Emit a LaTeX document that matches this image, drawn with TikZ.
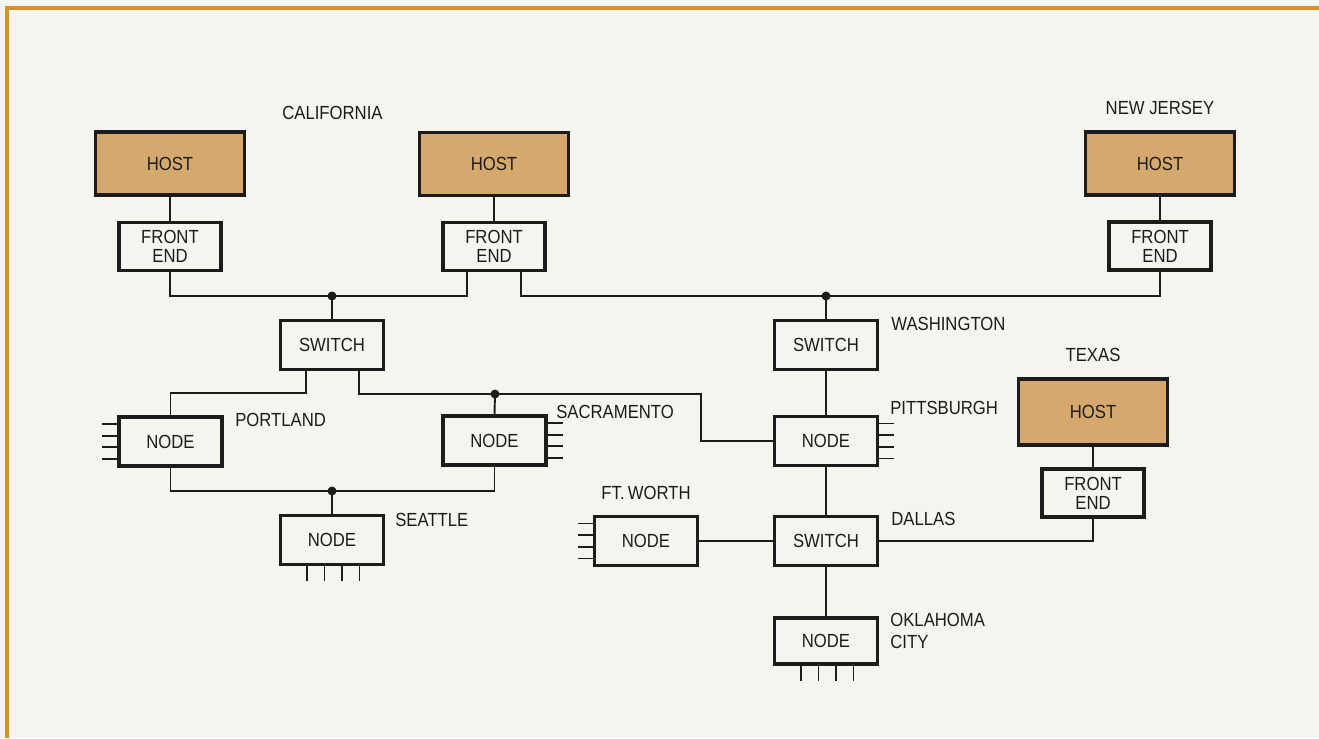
\documentclass[tikz,border=0pt]{standalone}
\usepackage{fontspec}
\setmainfont[FakeStretch=0.88]{Liberation Sans}
\usetikzlibrary{calc,positioning}
\definecolor{paper}{HTML}{F5F4EF}
\definecolor{ink}{HTML}{1C1C1C}
\definecolor{tan}{HTML}{D5A96D}
\definecolor{rule}{HTML}{D6912A}
\tikzset{
  unit/.style={draw=ink,line width=2.1pt,fill=paper,text=ink,align=center,inner sep=0pt,
               font=\fontsize{10.8}{10.8}\selectfont},
  hostbox/.style={unit,fill=tan,minimum width=2.98cm,minimum height=1.26cm},
  febox/.style={unit,minimum width=2.04cm,minimum height=0.96cm},
  swbox/.style={unit,minimum width=2.06cm,minimum height=0.98cm},
  place/.style={text=ink,inner sep=0pt,font=\fontsize{10.8}{12.5}\selectfont,align=left},
  wire/.style={draw=ink,line width=1.1pt},
  frame/.style={draw=rule,line width=2.2pt}
}

\begin{document}
\begin{tikzpicture}[x=0.02cm,y=-0.02cm]
    \fill[paper] (0,0) rectangle (1319,738);
    \useasboundingbox (0,0) rectangle (1319,738);
    \draw[frame] (1319,8) -- (7,8) -- (7,738);
    % hosts and front ends
    \node[hostbox] (hca) at (170,163.5) {HOST};
    \node[hostbox] (hcb) at (494,164) {HOST};
    \node[hostbox] (hnj) at (1160,163.5) {HOST};
    \node[hostbox,minimum height=1.32cm] (htx) at (1093,412) {HOST};
    \node[febox] (fca) at (170,246.5) {FRONT\\END};
    \node[febox] (fcb) at (494,246.5) {FRONT\\END};
    \node[febox] (fnj) at (1160,246) {FRONT\\END};
    \node[febox] (ftx) at (1093,493) {FRONT\\END};
    % switches and nodes
    \node[swbox] (swpo) at (332,345) {SWITCH};
    \node[swbox] (swwa) at (826,345) {SWITCH};
    \node[swbox] (swda) at (826,541) {SWITCH};
    \node[swbox] (ndpo) at (170.5,441.5) {NODE};
    \node[swbox] (ndsa) at (494.5,440.5) {NODE};
    \node[swbox] (ndse) at (332,540) {NODE};
    \node[swbox] (ndpi) at (826,441) {NODE};
    \node[swbox] (ndfw) at (646,541) {NODE};
    \node[swbox,minimum height=0.92cm] (ndok) at (826,641) {NODE};
    % place names
    \node[place,anchor=west] (lca) at (282,113) {CALIFORNIA};
    \node[place,above=0.3cm of hnj] (lnj) {NEW JERSEY};
    \node[place,above=0.3cm of htx] (ltx) {TEXAS};
    \node[place,anchor=west] (lwa) at (891,324) {WASHINGTON};
    \node[place,anchor=west] (lpi) at (890,408) {PITTSBURGH};
    \node[place,anchor=west] (lpo) at (235,420) {PORTLAND};
    \node[place,anchor=west] (lsa) at (556,412) {SACRAMENTO};
    \node[place,anchor=west] (lse) at (395,520) {SEATTLE};
    \node[place,above=0.3cm of ndfw] (lfw) {FT.\,WORTH};
    \node[place,anchor=west] (lda) at (891,519) {DALLAS};
    \node[place,anchor=north west] (lok) at (890,613) {OKLAHOMA\\CITY};
    % junctions
    \coordinate (ja) at (332,296);
    \coordinate (jb) at (826,296);
    \coordinate (jc) at (495,394);
    \coordinate (jd) at (332,491);
    % lines
    \draw[wire] (hca) -- (fca);
    \draw[wire] (hcb) -- (fcb);
    \draw[wire] (hnj) -- (fnj);
    \draw[wire] (htx) -- (ftx);
    \draw[wire] (fca.south) |- (ja) -| ($(fcb.south)+(-27,0)$);
    \draw[wire] ($(fcb.south)+(27,0)$) |- (jb) -| (fnj.south);
    \draw[wire] (ja) -- (swpo.north);
    \draw[wire] (jb) -- (swwa.north);
    \draw[wire] ($(swpo.south)+(-26,0)$) -- ++(0,22) -| (ndpo.north);
    \draw[wire] ($(swpo.south)+(27,0)$) |- (jc) -| ($(ndpi.west)+(-72,0)$) -- (ndpi.west);
    \draw[wire] (jc) -- (ndsa.north);
    \draw[wire] (ndpo.south) |- (jd) -| (ndsa.south);
    \draw[wire] (jd) -- (ndse.north);
    \draw[wire] (swwa) -- (ndpi);
    \draw[wire] (ndpi) -- (swda);
    \draw[wire] (swda) -- (ndok);
    \draw[wire] (ndfw) -- (swda);
    \draw[wire] (swda.east) -| (ftx.south);
    \foreach \j in {ja,jb,jc,jd}
      \fill[ink] (\j) circle[radius=0.09cm];
    % terminal pins
    \foreach \k in {-17.5,-5.8,5.8,17.5} {
      \draw[wire] ($(ndpo.west)+(0,\k)$) -- ++(-15,0);
      \draw[wire] ($(ndfw.west)+(0,\k)$) -- ++(-15,0);
      \draw[wire] ($(ndsa.east)+(0,\k)$) -- ++(15,0);
      \draw[wire] ($(ndpi.east)+(0,\k)$) -- ++(15,0);
    }
    \foreach \k in {-25,-7.5,10,27.5} {
      \draw[wire] ($(ndse.south)+(\k,0)$) -- ++(0,15);
      \draw[wire] ($(ndok.south)+(\k,0)$) -- ++(0,15);
    }
  \end{tikzpicture}
\end{document}
